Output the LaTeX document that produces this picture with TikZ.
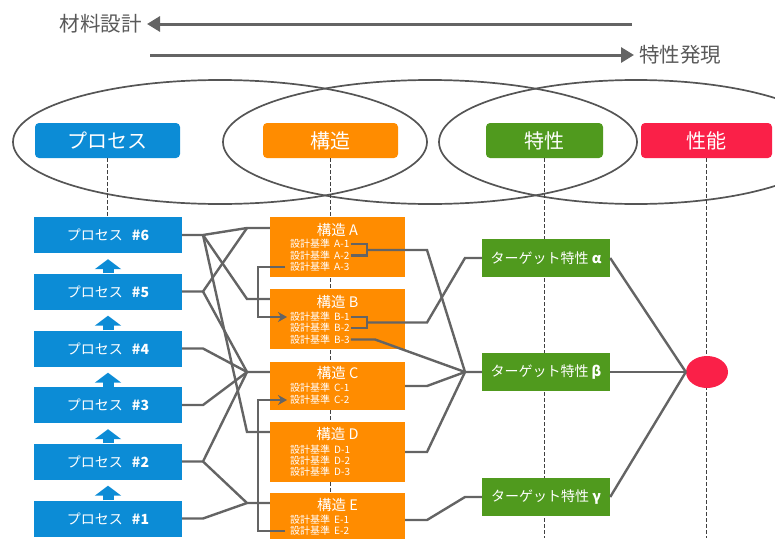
\documentclass[tikz,border=0pt]{standalone}
\usepackage{fontspec}
\setmainfont{Noto Sans CJK JP}
\usetikzlibrary{arrows.meta, shapes.geometric}

\definecolor{procblue}{RGB}{12,140,214}
\definecolor{structorange}{RGB}{255,140,0}
\definecolor{propgreen}{RGB}{80,154,30}
\definecolor{perfred}{RGB}{250,32,72}
\definecolor{wiregray}{RGB}{100,100,100}
\definecolor{ringgray}{RGB}{85,85,85}

\begin{document}
\begin{tikzpicture}[x=1pt, y=-1pt,
    ring/.style={draw=ringgray, line width=1.7pt},
    guide/.style={draw=black!75, line width=0.8pt, dash pattern=on 4pt off 2pt},
    flow/.style={draw=wiregray, line width=3pt, -{Triangle[length=13pt,width=15pt]}},
    toplabel/.style={text=black!65, font=\fontsize{20.5}{20.5}\selectfont, inner sep=5pt},
    header/.style={rounded corners=4pt, minimum height=35pt, inner sep=0pt, text=white, font=\fontsize{20}{20}\selectfont},
    procbox/.style={fill=procblue, minimum width=148pt, minimum height=36pt, inner sep=0pt, text=white, font=\fontsize{14}{14}\selectfont},
    structbox/.style={fill=structorange, minimum width=135pt, inner sep=0pt},
    stitle/.style={text=white, font=\fontsize{14.5}{14.5}\selectfont, inner sep=0pt},
    item/.style={text=white, font=\fontsize{10}{10}\selectfont, inner sep=1pt, anchor=west},
    propbox/.style={fill=propgreen, minimum width=128pt, minimum height=38pt, inner sep=0pt, text=white, font=\fontsize{14}{14}\selectfont},
    wire/.style={draw=wiregray, line width=2.4pt},
    lift/.style={draw=procblue, line width=11pt, shorten >=6pt, -{Triangle[length=10pt,width=26pt]}},
    loop/.style={wire, shorten <=4pt, shorten >=2pt, -{Stealth[length=9pt,width=10pt]}},
  ]
  \useasboundingbox (0,0) rectangle (775,538);
  \coordinate (floor) at (0,538);

  % top arrows
  \node[toplabel, anchor=east] (design) at (147,24) {材料設計};
  \node[toplabel, anchor=west] (emerge) at (634,55) {特性発現};
  \coordinate (dtail) at (632,24);
  \coordinate (etail) at (150,55);
  \draw[flow] (dtail) -- (design.east);
  \draw[flow] (etail) -- (emerge.west);

  % rings
  \draw[ring] (220,142) ellipse [x radius=207, y radius=62];
  \draw[ring] (430,142) ellipse [x radius=207, y radius=62];
  \draw[ring] (636,142) ellipse [x radius=197, y radius=62];

  % headers
  \node[header, fill=procblue, minimum width=145pt] (hproc) at (107.5,140.5) {プロセス};
  \node[header, fill=structorange, minimum width=135pt] (hstruct) at (330.5,140.5) {構造};
  \node[header, fill=propgreen, minimum width=117pt] (hprop) at (544.5,140.5) {特性};
  \node[header, fill=perfred, minimum width=131pt] (hperf) at (706.5,140.5) {性能};

  % process column
  \node[procbox] (p6) at (108,235) {プロセス\hspace{9pt}\textbf{\#6}};
  \node[procbox] (p5) at (108,291.5) {プロセス\hspace{9pt}\textbf{\#5}};
  \node[procbox] (p4) at (108,348.5) {プロセス\hspace{9pt}\textbf{\#4}};
  \node[procbox] (p3) at (108,405) {プロセス\hspace{9pt}\textbf{\#3}};
  \node[procbox] (p2) at (108,461.5) {プロセス\hspace{9pt}\textbf{\#2}};
  \node[procbox] (p1) at (108,518.5) {プロセス\hspace{9pt}\textbf{\#1}};

  % guides
  \draw[guide] (hproc.south) -- (hproc.south |- p6.north);
  \draw[guide] (hstruct.south) -- (hstruct.south |- floor);
  \draw[guide] (hprop.south) -- (hprop.south |- floor);
  \draw[guide] (hperf.south) -- (hperf.south |- floor);

  % structure column
  \node[structbox, minimum height=60pt] (sA) at (337.5,247) {};
  \node[stitle] (tA) at (337.5,230) {構造 A};
  \node[item] (a1) at (289,244) {設計基準\hspace{4pt}A-1};
  \node[item] (a2) at (289,255.5) {設計基準\hspace{4pt}A-2};
  \node[item] (a3) at (289,267) {設計基準\hspace{4pt}A-3};

  \node[structbox, minimum height=60pt] (sB) at (337.5,319) {};
  \node[stitle] (tB) at (337.5,302) {構造 B};
  \node[item] (b1) at (289,317) {設計基準\hspace{4pt}B-1};
  \node[item] (b2) at (289,328) {設計基準\hspace{4pt}B-2};
  \node[item] (b3) at (289,339.5) {設計基準\hspace{4pt}B-3};

  \node[structbox, minimum height=48pt] (sC) at (337.5,386) {};
  \node[stitle] (tC) at (337.5,373) {構造 C};
  \node[item] (c1) at (289,388) {設計基準\hspace{4pt}C-1};
  \node[item] (c2) at (289,400) {設計基準\hspace{4pt}C-2};

  \node[structbox, minimum height=60pt] (sD) at (337.5,452) {};
  \node[stitle] (tD) at (337.5,434) {構造 D};
  \node[item] (d1) at (289,450) {設計基準\hspace{4pt}D-1};
  \node[item] (d2) at (289,461) {設計基準\hspace{4pt}D-2};
  \node[item] (d3) at (289,472) {設計基準\hspace{4pt}D-3};

  \node[structbox, minimum height=54pt] (sE) at (337.5,520) {};
  \node[stitle] (tE) at (337.5,505) {構造 E};
  \node[item] (e1) at (289,519.5) {設計基準\hspace{4pt}E-1};
  \node[item] (e2) at (289,531) {設計基準\hspace{4pt}E-2};

  % property column
  \node[propbox] (ta) at (546,258) {ターゲット特性 \textbf{α}};
  \node[propbox] (tb) at (546,372) {ターゲット特性 \textbf{β}};
  \node[propbox] (tg) at (546,497) {ターゲット特性 \textbf{γ}};
  \node[ellipse, fill=perfred, minimum width=42pt, minimum height=32pt, inner sep=0pt] (perf) at (707,372) {};

  % junctions
  \coordinate (j6) at (203,235);
  \coordinate (j5) at (203,291.5);
  \coordinate (j4) at (203,348.5);
  \coordinate (j3) at (203,405);
  \coordinate (j2) at (203,461.5);
  \coordinate (j1) at (203,518.5);
  \coordinate (iA) at (247,228);
  \coordinate (iB) at (247,299);
  \coordinate (iC) at (247,372);
  \coordinate (iD) at (247,432);
  \coordinate (iE) at (247,503);
  \coordinate (lk) at (258,0);
  \coordinate (kA) at (367,250);
  \coordinate (kB) at (367,322.5);
  \coordinate (kB3) at (375,339.5);
  \coordinate (oA) at (427,250);
  \coordinate (oB) at (427,322.5);
  \coordinate (oC) at (427,386);
  \coordinate (oD) at (427,452);
  \coordinate (oE) at (427,520);
  \coordinate (ja) at (465,258);
  \coordinate (jb) at (465,372);
  \coordinate (jg) at (465,497);

  % process -> structure
  \draw[wire] (p6.east) -- (j6) -- (iA) -- (iA -| sA.west);
  \draw[wire] (j6) -- (iB) -- (iB -| sB.west);
  \draw[wire] (j6) -- (iD) -- (iD -| sD.west);
  \draw[wire] (p5.east) -- (j5) -- (iA);
  \draw[wire] (j5) -- (iC) -- (iC -| sC.west);
  \draw[wire] (p4.east) -- (j4) -- (iC);
  \draw[wire] (p3.east) -- (j3) -- (iC);
  \draw[wire] (p2.east) -- (j2) -- (iC);
  \draw[wire] (j2) -- (iE) -- (iE -| sE.west);
  \draw[wire] (p1.east) -- (j1) -- (iE);

  % structure -> property
  \draw[wire] (a1.east) -| (kA) |- (a2.east);
  \draw[wire] (kA) -- (oA) -- (jb) -- (tb.west);
  \draw[wire] (b1.east) -| (kB) |- (b2.east);
  \draw[wire] (kB) -- (oB) -- (ja) -- (ta.west);
  \draw[wire] (b3.east) -- (b3.east -| kB3) -- (jb);
  \draw[wire] (sC.east) -- (oC) -- (jb);
  \draw[wire] (sD.east) -- (oD) -- (jb);
  \draw[wire] (sE.east) -- (oE) -- (jg) -- (tg.west);
  \draw[loop] (a3.west) -- (a3.west -| lk) |- (b1.west);
  \draw[loop] (e2.west) -- (e2.west -| lk) |- (c2.west);

  % property -> performance
  \draw[wire] (ta.east) -- (perf.west);
  \draw[wire] (tb.east) -- (perf.west);
  \draw[wire] (tg.east) -- (perf.west);

  % process order
  \draw[lift] (p5.north) -- (p6.south);
  \draw[lift] (p4.north) -- (p5.south);
  \draw[lift] (p3.north) -- (p4.south);
  \draw[lift] (p2.north) -- (p3.south);
  \draw[lift] (p1.north) -- (p2.south);
\end{tikzpicture}
\end{document}
